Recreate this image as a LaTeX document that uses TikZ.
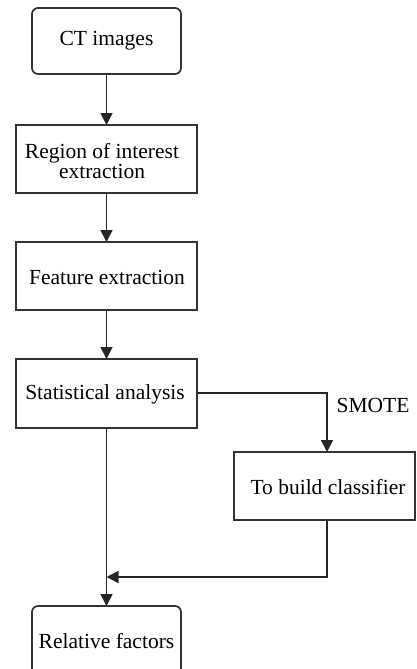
\documentclass[tikz,border=0pt]{standalone}
\usepackage{fontspec}
\setmainfont{Liberation Serif}
\usetikzlibrary{arrows.meta}
\begin{document}
\begin{tikzpicture}[x=1pt,y=-1pt,
  every node/.style={font=\fontsize{21.5}{20}\selectfont, inner sep=0pt},
  box/.style={draw=black!80, line width=1.7pt},
  rbox/.style={box, rounded corners=6pt},
  link/.style={draw=black!85, line width=1.6pt, -{Triangle[width=12pt,length=12pt]}}]
\useasboundingbox (0,0) rectangle (416,669);
\clip (0,0) rectangle (416,669);

% process boxes
\draw[rbox] (32,8) rectangle (181,74);
\node (ct) at (106.5,41) {CT images};
\coordinate (ctb) at (106.5,74);

\draw[box] (16,125) rectangle (197,193);
\node[align=center] (roi) at (102,161) {Region of interest\\extraction};
\coordinate (roit) at (106.5,125);
\coordinate (roib) at (106.5,193);

\draw[box] (16,242) rectangle (197,310);
\node (fe) at (107,277) {Feature extraction};
\coordinate (fet) at (106.5,242);
\coordinate (feb) at (106.5,310);

\draw[box] (16,359) rectangle (197,428);
\node (sa) at (105,394) {Statistical analysis};
\coordinate (sat) at (106.5,359);
\coordinate (sar) at (197,393);
\coordinate (sab) at (106.5,428);

\draw[box] (234,452) rectangle (415,520);
\node (cl) at (328,487) {To build classifier};
\coordinate (clt) at (327,452);
\coordinate (clb) at (327,520);

\draw[rbox] (32,606) rectangle (181,690);
\node (rf) at (106.5,641) {Relative factors};
\coordinate (rft) at (106.5,606);

\node (smote) at (373,405) {SMOTE};

% connectors
\draw[link] (ctb) -- (roit);
\draw[link] (roib) -- (fet);
\draw[link] (feb) -- (sat);
\draw[link] (sar) -| (clt);
\draw[link] (sab) -- (rft);
\coordinate (join) at (106.5,577);
\draw[link] (clb) |- (join);
\end{tikzpicture}
\end{document}
